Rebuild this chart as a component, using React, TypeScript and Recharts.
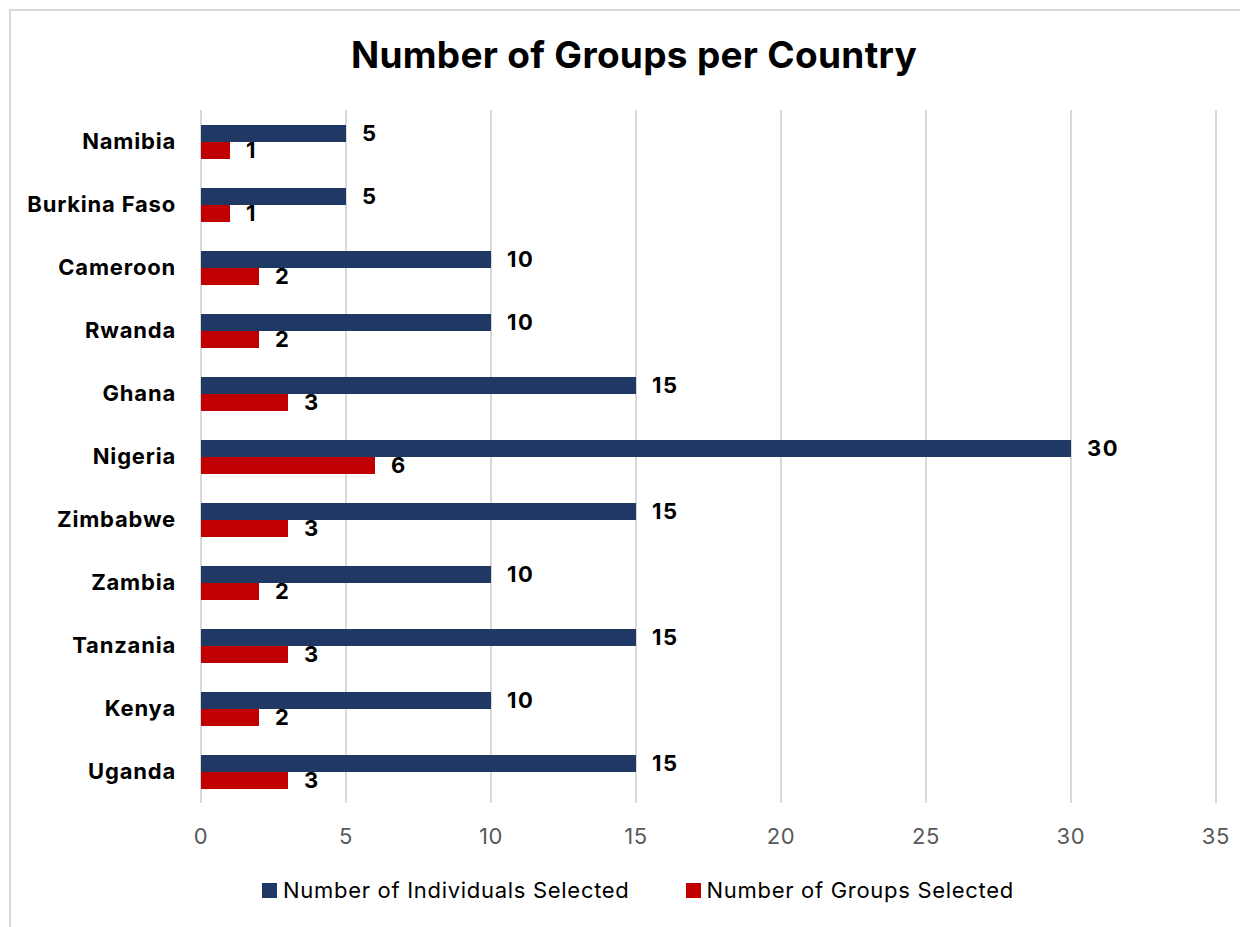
import React from "react";
import { Bar, BarChart, CartesianGrid, LabelList, Legend, XAxis, YAxis } from "recharts";

const countries = [
  "Namibia",
  "Burkina Faso",
  "Cameroon",
  "Rwanda",
  "Ghana",
  "Nigeria",
  "Zimbabwe",
  "Zambia",
  "Tanzania",
  "Kenya",
  "Uganda",
];
const individualsSelected = [5, 5, 10, 10, 15, 30, 15, 10, 15, 10, 15];
const groupsSelected = [1, 1, 2, 2, 3, 6, 3, 2, 3, 2, 3];
const xTicks = [0, 5, 10, 15, 20, 25, 30, 35];

const NAVY = "#203864";
const RED = "#C00000";
const FONT = "Inter, 'DejaVu Sans', sans-serif";

const data = countries.map((country, i) => ({
  country,
  individuals: individualsSelected[i],
  groups: groupsSelected[i],
}));

function LegendContent() {
  const items = [
    { label: "Number of Individuals Selected", color: NAVY },
    { label: "Number of Groups Selected", color: RED },
  ];
  return (
    <div
      style={{
        display: "flex",
        justifyContent: "center",
        alignItems: "center",
        gap: 56,
        height: 30,
        paddingLeft: 52,
        fontFamily: FONT,
        fontSize: 22,
        letterSpacing: 0.7,
        color: "#000",
      }}
    >
      {items.map((it) => (
        <div key={it.label} style={{ display: "flex", alignItems: "center" }}>
          <span style={{ width: 15, height: 15, background: it.color, marginRight: 6, display: "inline-block" }} />
          <span>{it.label}</span>
        </div>
      ))}
    </div>
  );
}

export default function App() {
  const labelStyle = { fill: "#000", fontSize: 22, fontWeight: 700, fontFamily: FONT, letterSpacing: 1.5 };
  return (
    <div style={{ position: "relative", width: 1240, height: 919, fontFamily: FONT, background: "#fff" }}>
      <div
        style={{
          position: "absolute",
          left: 1,
          top: 1,
          right: 0,
          bottom: 0,
          borderTop: "2px solid #d9d9d9",
          borderLeft: "2px solid #d9d9d9",
        }}
      />
      <div
        style={{
          position: "absolute",
          left: 0,
          top: 24,
          width: 1252,
          textAlign: "center",
          fontSize: 37,
          fontWeight: 700,
          letterSpacing: 0.3,
          color: "#000",
        }}
      >
        Number of Groups per Country
      </div>
      <div style={{ position: "absolute", left: 0, top: 0 }}>
        <BarChart
          width={1240}
          height={919}
          data={data}
          layout="vertical"
          margin={{ top: 102, right: 32, left: 0, bottom: 22 }}
          barGap={0}
          barSize={17}
        >
          <CartesianGrid horizontal={false} stroke="#d9d9d9" strokeWidth={2} />
          <XAxis
            type="number"
            domain={[0, 35]}
            ticks={xTicks}
            axisLine={false}
            tickLine={false}
            tickMargin={19}
            height={72}
            tick={{ fill: "#595959", fontSize: 22, fontFamily: FONT, letterSpacing: 0.7 }}
          />
          <YAxis
            type="category"
            dataKey="country"
            width={193}
            axisLine={false}
            tickLine={false}
            tickMargin={19}
            tick={{ fill: "#000", fontSize: 22, fontWeight: 700, fontFamily: FONT, letterSpacing: 0.8 }}
          />
          <Legend verticalAlign="bottom" content={<LegendContent />} />
          <Bar dataKey="individuals" name="Number of Individuals Selected" fill={NAVY} isAnimationActive={false}>
            <LabelList dataKey="individuals" position="right" offset={16} style={labelStyle} />
          </Bar>
          <Bar dataKey="groups" name="Number of Groups Selected" fill={RED} isAnimationActive={false}>
            <LabelList dataKey="groups" position="right" offset={16} style={labelStyle} />
          </Bar>
        </BarChart>
      </div>
    </div>
  );
}
